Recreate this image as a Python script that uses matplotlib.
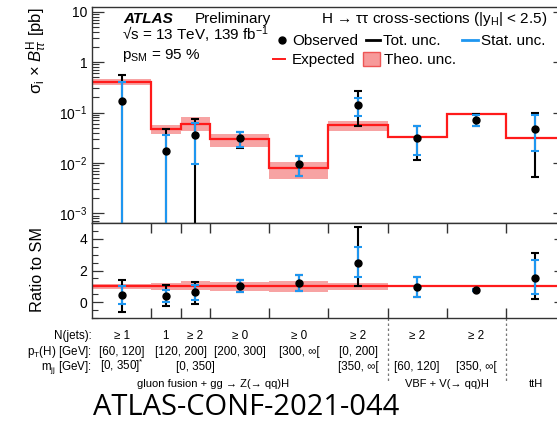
import matplotlib
matplotlib.use("Agg")
import matplotlib.pyplot as plt
import matplotlib.transforms as mtransforms
from matplotlib.lines import Line2D
from matplotlib.patches import Rectangle
from matplotlib.ticker import FixedLocator, FuncFormatter, LogLocator, MultipleLocator, NullFormatter
import numpy as np

plt.rcParams["font.family"] = ["Liberation Sans", "DejaVu Sans"]
plt.rcParams["mathtext.fontset"] = "custom"
plt.rcParams["mathtext.rm"] = "Liberation Sans"
plt.rcParams["mathtext.it"] = "Liberation Sans:italic"
plt.rcParams["mathtext.bf"] = "Liberation Sans:bold"

# ---- data ----
bin_edges = [0, 1, 1.5, 2, 3, 4, 5, 6, 7, 8]
expected = [0.41, 0.047, 0.059, 0.0294, 0.0078, 0.0565, 0.0333, 0.092, 0.032]
theo_hi = [0.465, 0.056, 0.080, 0.038, 0.0105, 0.068, 0.0340, 0.094, 0.0335]
theo_lo = [0.345, 0.037, 0.044, 0.0205, 0.0048, 0.044, 0.0326, 0.090, 0.0305]
observed = [0.169, 0.0175, 0.036, 0.0308, 0.0094, 0.139, 0.032, 0.071, 0.048]
tot_hi = [0.555, 0.048, 0.075, 0.042, 0.0137, 0.27, 0.053, 0.092, 0.0975]
tot_lo = [1e-6, 1e-6, 1e-6, 0.020, 0.0056, 0.053, 0.0114, 0.054, 0.0053]
stat_hi = [0.41, 0.036, 0.063, 0.041, 0.0137, 0.19, 0.053, 0.089, 0.089]
stat_lo = [1e-6, 1e-6, 0.0095, 0.0207, 0.0056, 0.085, 0.0147, 0.055, 0.0175]

ratio_obs = [0.44, 0.36, 0.63, 1.04, 1.21, 2.5, 0.94, 0.79, 1.52]
ratio_tot_hi = [1.42, 1.06, 1.27, 1.42, 1.69, 4.75, 1.59, 0.86, 3.08]
ratio_tot_lo = [-0.6, -0.27, -0.1, 0.65, 0.71, 1.0, 0.34, 0.72, 0.17]
ratio_stat_hi = [1.0, 0.79, 1.1, 1.42, 1.69, 3.46, 1.59, 0.85, 2.67]
ratio_stat_lo = [-0.1, -0.02, 0.13, 0.65, 0.71, 1.56, 0.34, 0.73, 0.54]

njets_labels = ["\u2265 1", "1", "\u2265 2", "\u2265 0", "\u2265 0", "\u2265 2", "\u2265 2", "\u2265 2", ""]
pt_labels = {0.5: "[60, 120]", 1.5: "[120, 200]", 2.5: "[200, 300]",
             3.5: "[300, \u221e[", 4.5: "[0, 200]"}
mjj_labels = {0.5: "[0, 350]$^{*}$", 1.75: "[0, 350]", 4.5: "[350, \u221e[",
              5.5: "[60, 120]", 6.5: "[350, \u221e["}
process_labels = {2.04: "gluon fusion + gg \u2192 Z(\u2192 qq)H", 6.0: "VBF + V(\u2192 qq)H", 7.5: "ttH"}
separators = [5, 7]

edges = np.array(bin_edges)
centers = 0.5 * (edges[:-1] + edges[1:])
expected = np.array(expected)
observed = np.array(observed)
ratio_obs = np.array(ratio_obs)

W, H = 557, 422
fig = plt.figure(figsize=(W / 100, H / 100), dpi=100)


def fx(x):
    return x / W


def fy(y):
    return 1 - y / H


left_px, right_px = 92, 565
ax = fig.add_axes([fx(left_px), fy(223), fx(right_px - left_px), (223 - 7) / H])
axr = fig.add_axes([fx(left_px), fy(318), fx(right_px - left_px), (318 - 223) / H])

frame_col = "#333333"
blue = "#1e96f0"
red = "#ff1a1a"
band = "#f7a3a3"

# ---- top panel ----
ax.set_yscale("log")
ax.stairs(theo_hi, edges, baseline=theo_lo, fill=True, color=band, lw=0, zorder=1)
ax.stairs(expected, edges, baseline=None, color=red, lw=1.6, zorder=2)
ax.errorbar(centers, observed, yerr=[observed - np.array(tot_lo), np.array(tot_hi) - observed],
            fmt="none", ecolor="black", elinewidth=1.5, capsize=3, capthick=1.5, zorder=3)
ax.errorbar(centers, observed, yerr=[observed - np.array(stat_lo), np.array(stat_hi) - observed],
            fmt="none", ecolor=blue, elinewidth=1.5, capsize=3, capthick=1.5, zorder=4)
ax.plot(centers, observed, "o", color="black", ms=5, zorder=5)
ax.set_xlim(0, 8)
ax.set_ylim(10 ** -3.19, 10 ** 1.093)
ax.set_xticks([])
ax.yaxis.set_major_locator(LogLocator(base=10, numticks=10))
ax.yaxis.set_minor_locator(LogLocator(base=10, subs=np.arange(2, 10), numticks=20))
ax.yaxis.set_minor_formatter(NullFormatter())


def log_fmt(v, pos):
    e = int(round(np.log10(v)))
    if e == 0:
        return "1"
    if e == 1:
        return "10"
    return r"$10^{%d}$" % e


ax.yaxis.set_major_formatter(FuncFormatter(log_fmt))
ax.tick_params(axis="y", which="major", direction="in", length=8.5, width=0.9,
               left=True, right=True, labelsize=10, pad=3.5, color=frame_col)
ax.tick_params(axis="y", which="minor", direction="in", length=5, width=0.8,
               left=True, right=True, color=frame_col)

# ---- ratio panel ----
ratio_hi = np.array(theo_hi) / expected
ratio_lo = np.array(theo_lo) / expected
axr.stairs(ratio_hi, edges, baseline=ratio_lo, fill=True, color=band, lw=0, zorder=1)
axr.stairs(np.ones(len(expected)), edges, baseline=None, color=red, lw=1.6, zorder=2)
axr.errorbar(centers, ratio_obs,
             yerr=[ratio_obs - np.array(ratio_tot_lo), np.array(ratio_tot_hi) - ratio_obs],
             fmt="none", ecolor="black", elinewidth=1.5, capsize=3, capthick=1.5, zorder=3)
axr.errorbar(centers, ratio_obs,
             yerr=[ratio_obs - np.array(ratio_stat_lo), np.array(ratio_stat_hi) - ratio_obs],
             fmt="none", ecolor=blue, elinewidth=1.5, capsize=3, capthick=1.5, zorder=4)
axr.plot(centers, ratio_obs, "o", color="black", ms=5, zorder=5)
axr.set_xlim(0, 8)
axr.set_ylim(-1, 5)
axr.yaxis.set_major_locator(FixedLocator([0, 2, 4]))
axr.yaxis.set_minor_locator(MultipleLocator(0.5))
axr.xaxis.set_major_locator(FixedLocator(bin_edges[1:-1]))
axr.set_xticklabels([])
axr.tick_params(axis="y", which="major", direction="in", length=8, width=0.9,
                left=True, right=True, labelsize=10, pad=3.5, color=frame_col)
axr.tick_params(axis="y", which="minor", direction="in", length=4, width=0.8,
                left=True, right=True, color=frame_col)
axr.tick_params(axis="x", which="major", direction="in", length=7, width=1.0,
                top=True, bottom=True, color=frame_col)

for a in (ax, axr):
    for s in a.spines.values():
        s.set_color(frame_col)
        s.set_linewidth(1.0)

# dashed separators spanning both panels and the label block
sep_tr = mtransforms.blended_transform_factory(axr.transData, fig.transFigure)
for xs in separators:
    fig.add_artist(Line2D([xs, xs], [fy(88), fy(383)], transform=sep_tr, color="#777777",
                          lw=0.9, ls=(0, (2, 2)), clip_on=False, zorder=0))

# ---- axis titles ----
fig.text(fx(37), fy(7), r"σ$_{\mathrm{i}}$ × $B^{\mathrm{H}}_{\tau\tau}$ [pb]", rotation=90,
         ha="center", va="top", fontsize=12)
fig.text(fx(37), fy(270), "Ratio to SM", rotation=90, ha="center", va="center", fontsize=11.7)

# ---- header texts ----
fig.text(fx(123), fy(23.3), "ATLAS", fontsize=11, fontweight="bold", fontstyle="italic", va="baseline")
fig.text(fx(195), fy(23.3), "Preliminary", fontsize=11, va="baseline")
fig.text(fx(122), fy(40.7), "\u221as = 13 TeV, 139 fb$^{-1}$", fontsize=11, va="baseline")
fig.text(fx(122), fy(59), "p$_{\\mathrm{SM}}$ = 95 %", fontsize=11, va="baseline")
fig.text(fx(547), fy(23.3), "H \u2192 \u03c4\u03c4 cross-sections (|y$_{\\mathrm{H}}$| < 2.5)",
         fontsize=11, ha="right", va="baseline")

# ---- legend (drawn by hand to match the layout) ----
fig.add_artist(Line2D([fx(282)], [fy(40)], marker="o", color="black", ms=5, transform=fig.transFigure))
fig.text(fx(292), fy(45), "Observed", fontsize=11, va="baseline")
fig.add_artist(Line2D([fx(366), fx(380)], [fy(40), fy(40)], color="black", lw=2, transform=fig.transFigure))
fig.text(fx(383), fy(45), "Tot. unc.", fontsize=11, va="baseline")
fig.add_artist(Line2D([fx(462), fx(478)], [fy(40), fy(40)], color=blue, lw=2, transform=fig.transFigure))
fig.text(fx(481), fy(45), "Stat. unc.", fontsize=11, va="baseline")
fig.add_artist(Line2D([fx(273), fx(285)], [fy(59), fy(59)], color=red, lw=1.4, transform=fig.transFigure))
fig.text(fx(292), fy(64), "Expected", fontsize=11, va="baseline")
fig.add_artist(Rectangle((fx(363), fy(66)), fx(17), 14 / H, facecolor="#f79a9a", edgecolor="#ee5555",
                         lw=1, transform=fig.transFigure))
fig.text(fx(384), fy(64), "Theo. unc.", fontsize=11, va="baseline")

# ---- bin description table ----
lab_tr = mtransforms.blended_transform_factory(axr.transData, fig.transFigure)
row_y = [339, 355, 370, 387]
tsize = 8.4
fig.text(fx(92), fy(row_y[0]), "N(jets):", fontsize=tsize, ha="right", va="baseline")
fig.text(fx(92), fy(row_y[1]), "p$_{\\mathrm{T}}$(H) [GeV]:", fontsize=tsize, ha="right", va="baseline")
fig.text(fx(92), fy(row_y[2]), "m$_{\\mathrm{jj}}$ [GeV]:", fontsize=tsize, ha="right", va="baseline")
for c, lab in zip(centers, njets_labels):
    fig.text(c, fy(row_y[0]), lab, fontsize=tsize, ha="center", va="baseline", transform=lab_tr)
for c, lab in pt_labels.items():
    fig.text(c, fy(row_y[1]), lab, fontsize=tsize, ha="center", va="baseline", transform=lab_tr)
for c, lab in mjj_labels.items():
    fig.text(c, fy(row_y[2]), lab, fontsize=tsize, ha="center", va="baseline", transform=lab_tr)
for c, lab in process_labels.items():
    fig.text(c, fy(row_y[3]), lab, fontsize=8, ha="center", va="baseline", transform=lab_tr)

fig.text(fx(93), fy(415), "ATLAS-CONF-2021-044", fontsize=21, family=["Open Sans", "DejaVu Sans"],
         va="baseline")

fig.savefig("out.png", dpi=100)
